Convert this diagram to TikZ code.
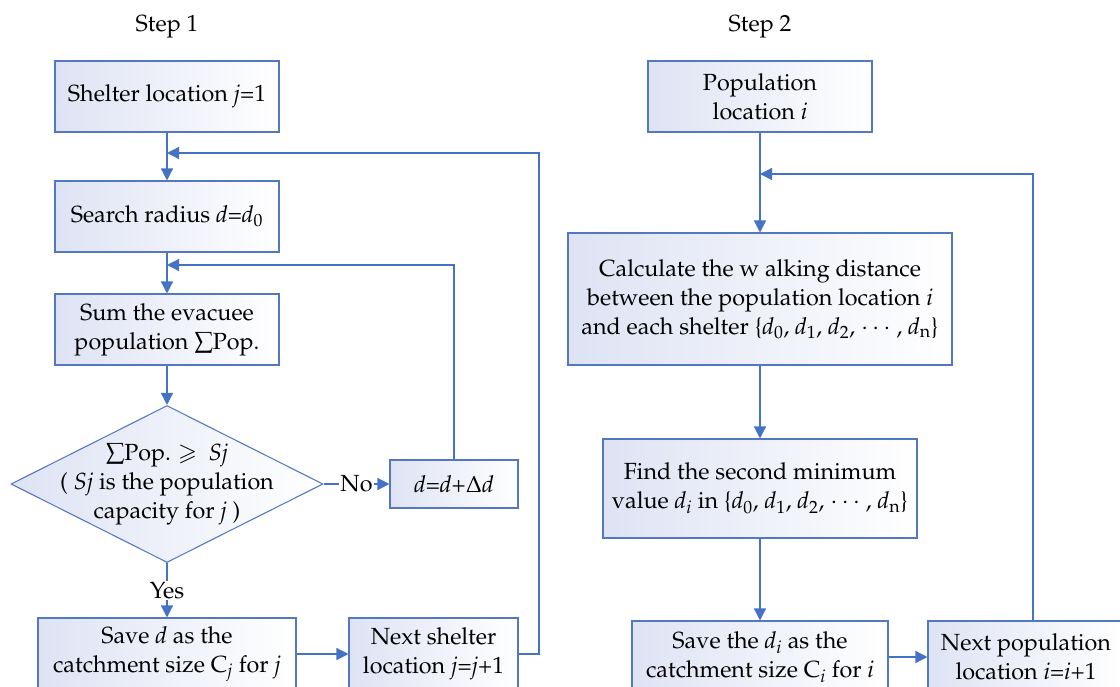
\documentclass[tikz,border=0pt]{standalone}
\usepackage[T1]{fontenc}
\usepackage{mathpazo}
\usepackage{amssymb}
\usetikzlibrary{arrows.meta,shapes.geometric}
\definecolor{bordbleu}{RGB}{84,120,192}
\definecolor{trait}{RGB}{68,114,196}
\definecolor{fond}{RGB}{222,227,244}
\tikzstyle{boite}=[draw=bordbleu,line width=0.8pt,left color=fond,right color=white,align=center,inner sep=2pt]
\tikzstyle{decision}=[diamond,draw=bordbleu,line width=0.8pt,left color=fond,right color=white,inner sep=0pt]
\tikzstyle{fleche}=[draw=trait,line width=1pt,-{Triangle[length=9pt,width=9pt]}]
\tikzstyle{etiquette}=[fill=white,inner sep=1pt]
\newcommand{\dsub}[1]{\textit{d}\textsubscript{#1}}

\begin{document}
\begin{tikzpicture}[x=0.75pt,y=-0.75pt,font=\fontsize{17.5}{21.75}\selectfont]
    \useasboundingbox (0,0) rectangle (1120,686);
    \clip (0,0) rectangle (1120,686);
    % titres
    \node (titre1) at (167,27) {Step 1};
    \node (titre2) at (760,27) {Step 2};
    % etape 1
    \node[boite,minimum width=168pt,minimum height=53.25pt] (shelter) at (167,96.5) {Shelter location \textit{j}=1};
    \node[boite,minimum width=168pt,minimum height=53.25pt] (search) at (167,216.5) {Search radius \textit{d}=\dsub{0}};
    \node[boite,minimum width=168pt,minimum height=53.25pt] (somme) at (167,329.5) {Sum the evacuee\\population $\sum$Pop.};
    \node[decision,minimum width=234pt,minimum height=117.75pt] (cond) at (167,484) {};
    \node[align=center] (condtxt) at (cond) {$\sum$Pop. $\geqslant$~~\textit{Sj}\\( \textit{Sj} is the population\\capacity for \textit{j} )};
    \node[boite,minimum width=96pt,minimum height=36pt] (dbox) at (454,484) {\textit{d}=\textit{d}+$\Delta$\textit{d}};
    \node[boite,minimum width=193.5pt,minimum height=54pt] (save1) at (167,654) {Save \textit{d} as the\\catchment size C\textsubscript{\textit{j}\/} for \textit{j}};
    \node[boite,minimum width=126.75pt,minimum height=54pt] (next1) at (433.5,654) {Next shelter\\location \textit{j}=\textit{j}+1};
    % etape 2
    \node[boite,minimum width=168pt,minimum height=53.25pt] (pop) at (760,96.5) {Population\\location \textit{i}};
    \node[boite,minimum width=288pt,minimum height=99pt] (calc) at (760,299) {Calculate the w alking distance\\between the population location \textit{i}\\and each shelter \{\dsub{0}, \dsub{1}, \dsub{2}, $\cdots$ , \dsub{n}\}};
    \node[boite,minimum width=235.5pt,minimum height=74.25pt] (find) at (760,488.5) {Find the second minimum\\value \dsub{\textit{i}\/} in \{\dsub{0}, \dsub{1}, \dsub{2}, $\cdots$ , \dsub{n}\}};
    \node[boite,minimum width=192pt,minimum height=54pt] (save2) at (760,657) {Save the \dsub{\textit{i}\/} as the\\catchment size C\textsubscript{\textit{i}\/} for \textit{i}};
    \node[boite,minimum width=147pt,minimum height=54pt] (next2) at (1026,657) {Next population\\location \textit{i}=\textit{i}+1};
    % fleches
    \foreach \source/\dest in {shelter/search, search/somme, somme/cond, save1/next1, pop/calc, calc/find, find/save2, save2/next2}
        \path[fleche] (\source) -- (\dest);
    \path[fleche] (cond) -- node[etiquette] {No} (dbox);
    \path[fleche] (cond) -- node[etiquette] {Yes} (save1);
    % boucles
    \coordinate (j1) at (167,153);
    \coordinate (coin1) at (539,153);
    \coordinate (j2) at (167,265);
    \coordinate (j3) at (760,174);
    \coordinate (coin3) at (1033,174);
    \path[fleche] (next1.east) -| (coin1) -- (j1);
    \path[fleche] (dbox.north) |- (j2);
    \path[fleche] (next2.north -| coin3) -- (coin3) -- (j3);
\end{tikzpicture}
\end{document}
